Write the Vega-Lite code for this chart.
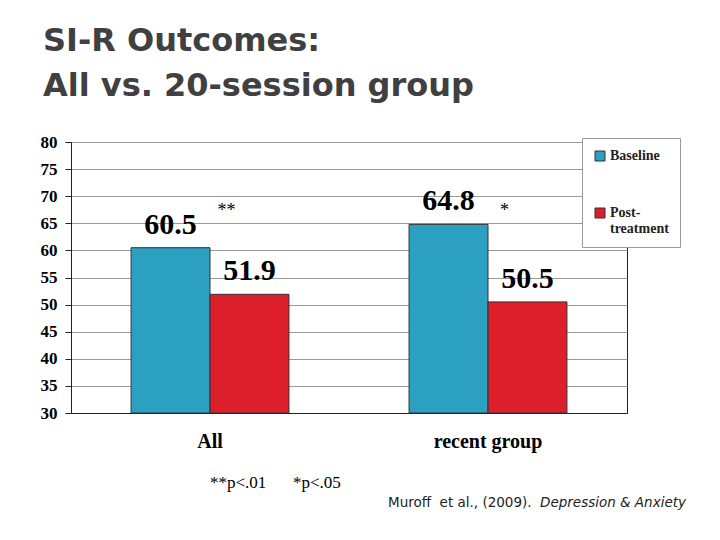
{
  "$schema": "https://vega.github.io/schema/vega-lite/v6.json",
  "width": 556,
  "height": 271,
  "autosize": {"type": "none"},
  "padding": {"left": 71, "top": 142, "right": 93, "bottom": 127},
  "background": "white",
  "config": {
    "view": {"stroke": "#222", "strokeWidth": 1},
    "axisY": {
      "grid": true,
      "gridColor": "#999",
      "domainColor": "#222",
      "tickColor": "#222",
      "tickSize": 6,
      "labelFont": "Liberation Serif",
      "labelFontWeight": "bold",
      "labelFontSize": 17,
      "labelColor": "#000",
      "labelPadding": 8,
      "labelOverlap": false,
      "title": null
    },
    "axisX": {
      "labelFont": "Liberation Serif",
      "labelFontWeight": "bold",
      "labelFontSize": 20,
      "labelColor": "#000",
      "labelPadding": 18,
      "labelAngle": 0,
      "ticks": false,
      "domainColor": "#222",
      "title": null
    }
  },
  "title": {
    "text": ["SI-R Outcomes:", "All vs. 20-session group"],
    "anchor": "start",
    "frame": "group",
    "dx": -28,
    "offset": 30,
    "font": "DejaVu Sans",
    "fontSize": 32,
    "fontWeight": "bold",
    "color": "#404040",
    "lineHeight": 45
  },
  "datasets": {
    "bars": [
      {"group": "All", "series": "Baseline", "value": 60.5},
      {"group": "All", "series": "Post-treatment", "value": 51.9},
      {"group": "recent group", "series": "Baseline", "value": 64.8},
      {"group": "recent group", "series": "Post-treatment", "value": 50.5}
    ],
    "stars": [
      {"group": "All", "series": "Post-treatment", "star": "**"},
      {"group": "recent group", "series": "Post-treatment", "star": "*"}
    ],
    "notes": [
      {"group": "All", "p1": "**p<.01", "p2": "*p<.05"}
    ],
    "cite": [
      {"group": "recent group", "plain": "Muroff\u00a0\u00a0et al., (2009).", "journal": "Depression & Anxiety"}
    ]
  },
  "layer": [
    {
      "data": {"name": "bars"},
      "mark": {"type": "bar", "stroke": "#333", "strokeWidth": 1},
      "encoding": {
        "x": {
          "field": "group",
          "type": "nominal",
          "sort": ["All", "recent group"],
          "scale": {"paddingInner": 0.432, "paddingOuter": 0.216},
          "title": null
        },
        "xOffset": {
          "field": "series",
          "type": "nominal",
          "sort": ["Baseline", "Post-treatment"],
          "scale": {"paddingInner": 0, "paddingOuter": 0}
        },
        "y": {
          "field": "value",
          "type": "quantitative",
          "scale": {"domain": [30, 80], "zero": false, "nice": false},
          "axis": {"values": [30, 35, 40, 45, 50, 55, 60, 65, 70, 75, 80], "tickCount": 11},
          "title": null
        },
        "y2": {"datum": 30},
        "color": {
          "field": "series",
          "type": "nominal",
          "scale": {"domain": ["Baseline", "Post-treatment"], "range": ["#2ba0c0", "#dc1f2a"]},
          "legend": {
            "orient": "none",
            "legendX": 511,
            "legendY": -4,
            "title": null,
            "strokeColor": "#999",
            "fillColor": "white",
            "padding": 11,
            "rowPadding": 43,
            "symbolType": "square",
            "symbolSize": 100,
            "symbolStrokeColor": "#333",
            "symbolStrokeWidth": 1,
            "labelFont": "Liberation Serif",
            "labelFontWeight": "bold",
            "labelFontSize": 14,
            "labelColor": "#222",
            "labelOffset": 3,
            "labelLineHeight": 18,
            "labelBaseline": "middle",
            "labelExpr": "datum.label == 'Post-treatment' ? ['Post-', 'treatment'] : datum.label"
          }
        }
      }
    },
    {
      "data": {"name": "bars"},
      "mark": {"type": "text", "font": "Liberation Serif", "fontWeight": "bold", "fontSize": 30, "baseline": "bottom", "dy": -8, "color": "#000"},
      "encoding": {
        "x": {"field": "group", "type": "nominal", "sort": ["All", "recent group"]},
        "xOffset": {"field": "series", "type": "nominal", "sort": ["Baseline", "Post-treatment"]},
        "y": {"field": "value", "type": "quantitative", "axis": {"values": [30, 35, 40, 45, 50, 55, 60, 65, 70, 75, 80], "tickCount": 11}},
        "text": {"field": "value", "type": "quantitative", "format": ".1f"}
      }
    },
    {
      "data": {"name": "stars"},
      "mark": {"type": "text", "font": "Liberation Serif", "fontSize": 18, "baseline": "middle", "dx": -23, "color": "#000"},
      "encoding": {
        "x": {"field": "group", "type": "nominal", "sort": ["All", "recent group"]},
        "xOffset": {"field": "series", "type": "nominal", "sort": ["Baseline", "Post-treatment"]},
        "y": {"datum": 67.3, "type": "quantitative", "axis": {"values": [30, 35, 40, 45, 50, 55, 60, 65, 70, 75, 80], "tickCount": 11}},
        "text": {"field": "star"}
      }
    },
    {
      "data": {"name": "notes"},
      "mark": {"type": "text", "font": "Liberation Serif", "fontSize": 17, "align": "left", "baseline": "middle", "dx": 0, "color": "#000"},
      "encoding": {
        "x": {"field": "group", "type": "nominal"},
        "y": {"datum": 17.1, "type": "quantitative", "axis": {"values": [30, 35, 40, 45, 50, 55, 60, 65, 70, 75, 80], "tickCount": 11}},
        "text": {"field": "p1"}
      }
    },
    {
      "data": {"name": "notes"},
      "mark": {"type": "text", "font": "Liberation Serif", "fontSize": 17, "align": "left", "baseline": "middle", "dx": 83, "color": "#000"},
      "encoding": {
        "x": {"field": "group", "type": "nominal"},
        "y": {"datum": 17.1, "type": "quantitative", "axis": {"values": [30, 35, 40, 45, 50, 55, 60, 65, 70, 75, 80], "tickCount": 11}},
        "text": {"field": "p2"}
      }
    },
    {
      "data": {"name": "cite"},
      "mark": {"type": "text", "font": "DejaVu Sans", "fontSize": 13.5, "align": "left", "baseline": "middle", "dx": -100, "color": "#222"},
      "encoding": {
        "x": {"field": "group", "type": "nominal"},
        "y": {"datum": 13.4, "type": "quantitative", "axis": {"values": [30, 35, 40, 45, 50, 55, 60, 65, 70, 75, 80], "tickCount": 11}},
        "text": {"field": "plain"}
      }
    },
    {
      "data": {"name": "cite"},
      "mark": {"type": "text", "font": "DejaVu Sans", "fontSize": 13.5, "fontStyle": "italic", "align": "right", "baseline": "middle", "dx": 198, "color": "#222"},
      "encoding": {
        "x": {"field": "group", "type": "nominal"},
        "y": {"datum": 13.4, "type": "quantitative", "axis": {"values": [30, 35, 40, 45, 50, 55, 60, 65, 70, 75, 80], "tickCount": 11}},
        "text": {"field": "journal"}
      }
    }
  ]
}
